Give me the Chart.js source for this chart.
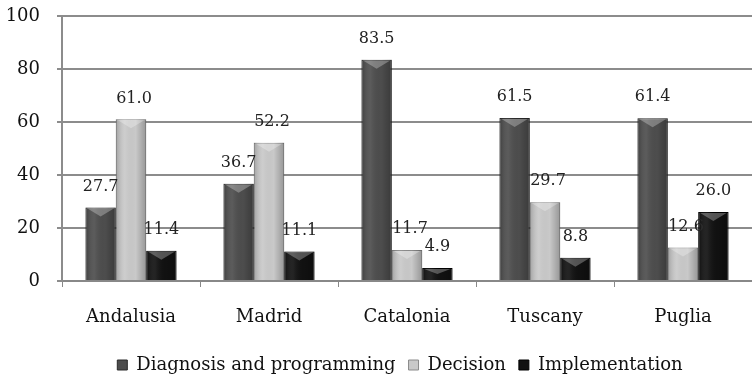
<!DOCTYPE html>
<html>
<head>
<meta charset="utf-8">
<script src="https://cdn.jsdelivr.net/npm/chart.js@4/dist/chart.umd.min.js"></script>
<style>
  html, body { margin: 0; padding: 0; background: #fff; }
  #wrap { width: 752px; height: 376px; }
</style>
</head>
<body>
<div id="wrap"><canvas id="chart"></canvas></div>
<script>
var regions = ['Andalusia', 'Madrid', 'Catalonia', 'Tuscany', 'Puglia'];
var diagnosis = [27.7, 36.7, 83.5, 61.5, 61.4];
var decision = [61.0, 52.2, 11.7, 29.7, 12.6];
var implementation = [11.4, 11.1, 4.9, 8.8, 26.0];
var yTicks = [0, 20, 40, 60, 80, 100];

var serif = 'DejaVu Serif';

// shading + value labels drawn over each bar, using the bar elements from the library
var barLook = {
    id: 'barLook',
    afterLayout: function(chart) {
        // legend sits a bit right of centre and low in the original
        var lg = chart.legend;
        lg.left += 24; lg.right += 24;
        lg.top += 8; lg.bottom += 8;
    },
    afterDatasetsDraw: function(chart) {
        var ctx = chart.ctx;
        chart.data.datasets.forEach(function(ds, i) {
            var meta = chart.getDatasetMeta(i);
            meta.data.forEach(function(bar, j) {
                var left = bar.x - bar.width / 2;
                var right = bar.x + bar.width / 2;
                var top = bar.y;
                var bottom = bar.base;
                ctx.save();
                var g = ctx.createLinearGradient(left, 0, right, 0);
                g.addColorStop(0, 'rgba(0,0,0,0.20)');
                g.addColorStop(0.3, 'rgba(255,255,255,0.08)');
                g.addColorStop(0.65, 'rgba(0,0,0,0)');
                g.addColorStop(1, 'rgba(0,0,0,0.25)');
                ctx.fillStyle = g;
                ctx.fillRect(left, top, bar.width, bottom - top);
                // top chevron highlight
                var h = Math.min(9, (bottom - top) / 2);
                ctx.beginPath();
                ctx.moveTo(left + 2, top + 1);
                ctx.lineTo(right - 2, top + 1);
                ctx.lineTo(bar.x, top + h);
                ctx.closePath();
                ctx.fillStyle = 'rgba(255,255,255,0.28)';
                ctx.fill();
                ctx.restore();

                ctx.save();
                ctx.fillStyle = '#222';
                ctx.font = '16px "' + serif + '"';
                ctx.textAlign = 'center';
                ctx.textBaseline = 'middle';
                ctx.fillText(ds.data[j].toFixed(1), bar.x + (i === 1 ? 3 : 0), top - 21);
                ctx.restore();
            });
        });
    }
};

var ctx = document.getElementById('chart').getContext('2d');
new Chart(ctx, {
    type: 'bar',
    data: {
        labels: regions,
        datasets: [
            { label: 'Diagnosis and programming', data: diagnosis, backgroundColor: '#4d4d4d', borderColor: '#2a2a2a', borderWidth: 1 },
            { label: 'Decision', data: decision, backgroundColor: '#c9c9c9', borderColor: '#8a8a8a', borderWidth: 1 },
            { label: 'Implementation', data: implementation, backgroundColor: '#111111', borderColor: '#000', borderWidth: 1 }
        ]
    },
    options: {
        responsive: true,
        maintainAspectRatio: false,
        animation: false,
        datasets: {
            bar: { categoryPercentage: 0.66, barPercentage: 1.0 }
        },
        layout: { padding: 0 },
        plugins: {
            tooltip: { enabled: false },
            legend: {
                position: 'bottom',
                labels: {
                    font: { family: serif, size: 18 },
                    color: '#111',
                    boxWidth: 10,
                    boxHeight: 10,
                    padding: 13
                }
            }
        },
        scales: {
            x: {
                grid: { drawOnChartArea: false, drawTicks: true, tickLength: 6, offset: true, color: '#888', lineWidth: 1 },
                border: { display: true, color: '#888', width: 2 },
                ticks: { font: { family: serif, size: 18 }, color: '#111', padding: 20 },
                afterFit: function(scale) { scale.height = 54; }
            },
            y: {
                min: 0,
                max: 100,
                afterBuildTicks: function(scale) {
                    scale.ticks = yTicks.map(function(v) { return { value: v }; });
                },
                grid: { color: '#8c8c8c', lineWidth: 2, drawTicks: true, tickLength: 5 },
                border: { display: true, color: '#8c8c8c', width: 2 },
                ticks: { font: { family: serif, size: 18 }, color: '#111', padding: 17 },
                afterFit: function(scale) {
                    scale.width = 62;
                    scale.paddingTop = 16;
                }
            }
        }
    },
    plugins: [barLook]
});
</script>
</body>
</html>
